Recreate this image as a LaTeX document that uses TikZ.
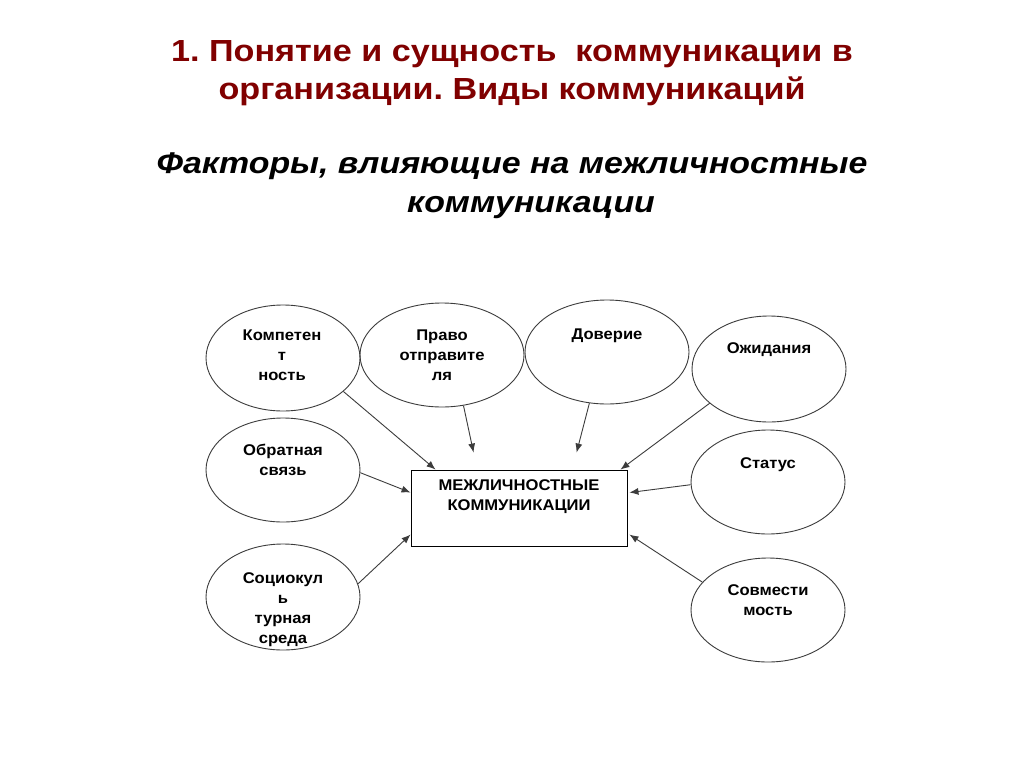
\documentclass[tikz,border=0pt]{standalone}
\usepackage{fontspec}
\setmainfont{Liberation Sans}[FakeStretch=1.07]
\newfontfamily\titlefont{Liberation Sans}[FakeStretch=1.12]
\newfontfamily\subfont{Liberation Sans}[FakeStretch=1.13]
\usetikzlibrary{shapes.geometric,arrows.meta,calc}
\definecolor{titlered}{RGB}{128,0,0}
\definecolor{linegray}{RGB}{60,60,60}
\frenchspacing
\begin{document}
\begin{tikzpicture}[x=1pt,y=-1pt,
  fac/.style={ellipse,draw=linegray,line width=0.9pt,inner sep=0pt},
  lbl/.style={anchor=north,align=center,font=\fontsize{15.5}{20}\selectfont\bfseries,inner sep=0pt},
  box/.style={rectangle,draw=black,line width=0.9pt,inner sep=0pt,minimum width=216pt,minimum height=76pt},
  conn/.style={draw=linegray,line width=0.9pt,-{Latex[length=9pt,width=7pt]}},
  ttl/.style={align=center,font=\titlefont\fontsize{30.5}{38}\selectfont\bfseries,text=titlered,inner sep=0pt},
  sub/.style={align=center,font=\subfont\fontsize{30}{39}\selectfont\bfseries\itshape,inner sep=0pt}]
\useasboundingbox[fill=white] (0,0) rectangle (1024,768);
% titles
\node[ttl] (title) at (512,73) {1. Понятие и сущность\ \ коммуникации в\\организации. Виды коммуникаций};
\node[sub] (subtitle) at (512,186) {Факторы, влияющие на межличностные\\\hspace*{38pt}коммуникации};
% central box
\node[box] (mk) at (519,508) {};
\node[lbl] (mkt) at (519,479.5) {МЕЖЛИЧНОСТНЫЕ\\КОММУНИКАЦИИ};
% factor ellipses
\node[fac,minimum width=154pt,minimum height=106pt] (komp) at (283,358) {};
\node[lbl] at (282,329.5) {Компетен\\т\\ность};
\node[fac,minimum width=164pt,minimum height=104pt] (prav) at (442,355) {};
\node[lbl] at (442,329.5) {Право\\отправите\\ля};
\node[fac,minimum width=164pt,minimum height=104pt] (dov) at (607,352) {};
\node[lbl] at (607,328.5) {Доверие};
\node[fac,minimum width=154pt,minimum height=106pt] (ozh) at (769,369) {};
\node[lbl] at (769,342.5) {Ожидания};
\node[fac,minimum width=154pt,minimum height=104pt] (obr) at (283,470) {};
\node[lbl] at (283,443.5) {Обратная\\связь};
\node[fac,minimum width=154pt,minimum height=104pt] (stat) at (768,482) {};
\node[lbl] at (768,457.5) {Статус};
\node[fac,minimum width=154pt,minimum height=106pt] (soc) at (283,597) {};
\node[lbl] at (283,572.5) {Социокул\\ь\\турная\\среда};
\node[fac,minimum width=154pt,minimum height=104pt] (sovm) at (768,610) {};
\node[lbl] at (768,584.5) {Совмести\\мость};
% connectors
\draw[conn] (komp.-29) -- ([xshift=25pt]mk.north west);
\draw[conn] (prav.-67) -- ([xshift=63pt,yshift=17pt]mk.north west);
\draw[conn] (dov.-109) -- ([xshift=166pt,yshift=17pt]mk.north west);
\draw[conn] (ozh.210) -- ([xshift=-7pt]mk.north east);
\draw[conn] (obr.-2) -- ([yshift=-23pt]mk.north west);
\draw[conn] (soc.10) -- ([yshift=-65pt]mk.north west);
\draw[conn] (stat.182) -- ([xshift=2pt,yshift=-23pt]mk.north east);
\draw[conn] (sovm.157) -- ([xshift=2pt,yshift=-65pt]mk.north east);
\end{tikzpicture}
\end{document}
